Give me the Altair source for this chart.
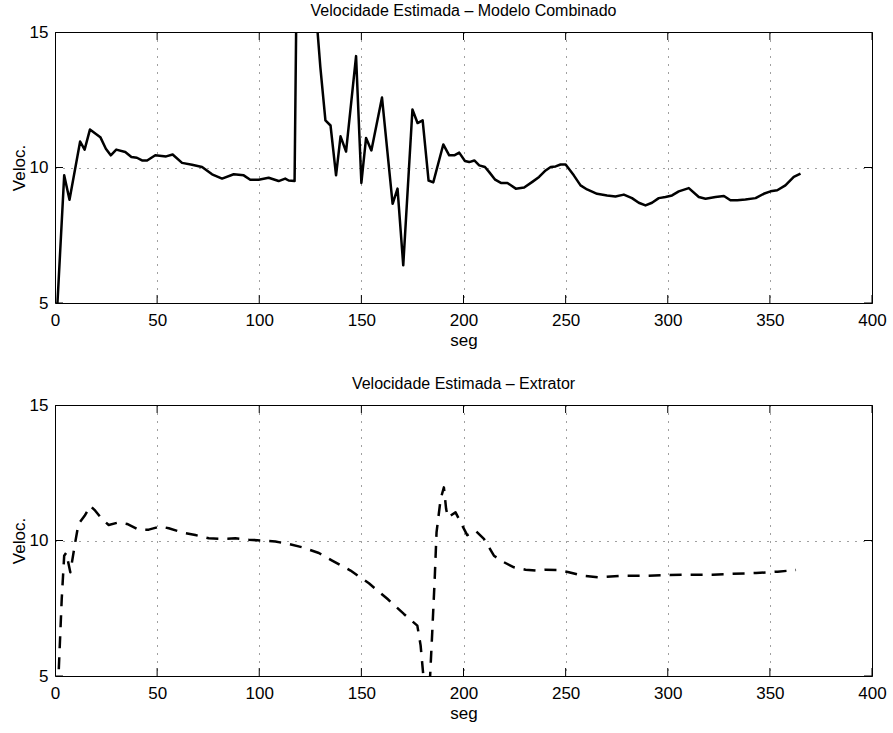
import altair as alt
import pandas as pd

# ---- data ----
t_comb = [0.5, 4.5, 7.1, 12.3, 14.5, 17.1, 22.2, 24.9, 27.3, 30.0,
          34.4, 37.4, 40.1, 42.6, 45.1, 49.1, 54.4, 57.6, 62.2, 67.1,
          72.0, 76.9, 81.8, 87.5, 92.4, 95.6, 99.7, 104.6, 109.5, 112.7,
          114.4, 117.3, 119.0, 121.5, 124.0, 127.0, 129.9, 132.4, 134.9, 137.6,
          139.8, 142.5, 147.4, 150.0, 152.3, 154.9, 160.1, 165.3, 167.7, 170.5,
          175.0, 177.5, 180.0, 182.9, 185.2, 190.1, 193.0, 195.5, 197.9, 200.7,
          202.8, 205.3, 207.7, 210.5, 212.6, 215.5, 218.3, 221.5, 225.6, 229.7,
          233.7, 237.0, 240.2, 242.7, 245.1, 247.5, 250.0, 254.0, 257.3, 260.5,
          265.4, 270.3, 274.4, 278.5, 282.5, 285.8, 289.1, 292.3, 295.6, 298.9,
          302.1, 305.4, 310.3, 315.2, 318.5, 323.4, 327.5, 330.7, 334.0, 338.0,
          343.0, 347.0, 350.3, 353.6, 357.6, 361.7, 365.0]
v_comb = [4.0, 9.71, 8.81, 10.96, 10.66, 11.40, 11.12, 10.69, 10.45, 10.66,
          10.57, 10.39, 10.36, 10.26, 10.26, 10.45, 10.41, 10.48, 10.17, 10.10,
          10.02, 9.75, 9.59, 9.75, 9.71, 9.55, 9.55, 9.62, 9.50, 9.59,
          9.52, 9.50, 22.0, 19.5, 18.0, 16.5, 13.71, 11.74, 11.55, 9.71,
          11.15, 10.59, 14.11, 9.43, 11.09, 10.63, 12.58, 8.66, 9.22, 6.39,
          12.14, 11.64, 11.74, 9.52, 9.45, 10.85, 10.45, 10.45, 10.55, 10.24,
          10.20, 10.26, 10.08, 10.02, 9.83, 9.55, 9.43, 9.43, 9.22, 9.26,
          9.47, 9.65, 9.89, 10.02, 10.04, 10.11, 10.11, 9.71, 9.34, 9.19,
          9.03, 8.97, 8.93, 9.00, 8.87, 8.70, 8.60, 8.70, 8.87, 8.91,
          8.97, 9.12, 9.24, 8.91, 8.85, 8.91, 8.95, 8.79, 8.79, 8.82,
          8.87, 9.03, 9.12, 9.16, 9.34, 9.65, 9.77]

t_ext = [1.0, 3.3, 4.5, 5.5, 7.5, 9.9, 11.5, 14.5, 17.3, 19.7,
         23.0, 26.3, 31.2, 35.3, 41.0, 45.9, 51.6, 55.7, 62.2, 68.7,
         75.3, 81.8, 88.3, 94.9, 101.4, 107.9, 114.5, 121.0, 129.2, 135.7,
         144.7, 153.7, 162.7, 170.8, 177.4, 179.0, 182.5, 184.7, 185.9, 186.8,
         188.8, 190.4, 191.5, 192.4, 196.1, 199.4, 201.8, 205.9, 210.0, 214.9,
         219.0, 224.7, 230.4, 235.3, 240.2, 246.7, 251.6, 258.2, 266.4, 277.9,
         289.3, 299.9, 310.5, 322.0, 331.8, 343.2, 353.8, 362.8]
v_ext = [3.7, 7.85, 9.44, 9.55, 8.83, 9.93, 10.61, 10.91, 11.28, 11.10,
         10.79, 10.57, 10.67, 10.61, 10.40, 10.40, 10.52, 10.45, 10.30, 10.20,
         10.08, 10.06, 10.08, 10.03, 10.00, 9.96, 9.87, 9.75, 9.54, 9.26,
         8.89, 8.42, 7.85, 7.29, 6.86, 6.13, 3.2, 6.62, 8.58, 10.30,
         11.53, 11.96, 11.16, 10.85, 11.04, 10.55, 10.20, 10.36, 10.06, 9.44,
         9.23, 9.01, 8.92, 8.89, 8.92, 8.91, 8.83, 8.70, 8.64, 8.70,
         8.70, 8.73, 8.74, 8.74, 8.77, 8.80, 8.85, 8.91]

x_ticks = [0, 50, 100, 150, 200, 250, 300, 350, 400]
y_ticks = [5, 10, 15]

title_top = "Velocidade Estimada – Modelo Combinado"
title_bottom = "Velocidade Estimada – Extrator"
x_title = "seg"
y_title = "Veloc."

assert len(t_comb) == len(v_comb)
assert len(t_ext) == len(v_ext)

FONT = "Liberation Sans"
W, H = 817, 271


def panel(ts, vs, title, dash):
    df = pd.DataFrame({"t": ts, "v": vs})
    xdf = pd.DataFrame({"t": x_ticks})
    ydf = pd.DataFrame({"v": y_ticks})
    xs = alt.Scale(domain=[0, 400], nice=False, zero=False)
    ys = alt.Scale(domain=[5, 15], nice=False, zero=False)
    xaxis = alt.Axis(values=x_ticks, grid=True, title=x_title, format="d",
                     labelPadding=9, titlePadding=4, labelFlush=False,
                     labelOverlap=False)
    yaxis = alt.Axis(values=y_ticks, grid=True, title=y_title, format="d",
                     labelPadding=7, titlePadding=1, labelFlush=False,
                     labelOverlap=False)
    mk = dict(color="black", strokeWidth=2.5, clip=True, strokeCap="butt", strokeJoin="round")
    if dash:
        mk["strokeDash"] = dash
    line = alt.Chart(df).mark_line(**mk).encode(
        x=alt.X("t:Q", scale=xs, axis=xaxis),
        y=alt.Y("v:Q", scale=ys, axis=yaxis),
        order="t:Q",
    )
    tk = dict(color="black", size=16, thickness=1, clip=True, opacity=1)
    xt_bot = alt.Chart(xdf).mark_tick(**tk).encode(
        x=alt.X("t:Q", scale=xs, axis=xaxis), y=alt.value(H))
    xt_top = alt.Chart(xdf).mark_tick(**tk).encode(
        x=alt.X("t:Q", scale=xs, axis=xaxis), y=alt.value(0))
    yt_l = alt.Chart(ydf).mark_tick(**tk).encode(
        y=alt.Y("v:Q", scale=ys, axis=yaxis), x=alt.value(0))
    yt_r = alt.Chart(ydf).mark_tick(**tk).encode(
        y=alt.Y("v:Q", scale=ys, axis=yaxis), x=alt.value(W))
    return alt.layer(line, xt_bot, xt_top, yt_l, yt_r).properties(
        width=W, height=H,
        title=alt.TitleParams(title, font=FONT, fontSize=16, fontWeight="normal",
                              color="black", anchor="middle", offset=4),
    )


top = panel(t_comb, v_comb, title_top, None)
bottom = panel(t_ext, v_ext, title_bottom, [12, 9])

chart = alt.vconcat(top, bottom, spacing=26).properties(
    padding={"left": 9, "top": 2, "right": 4, "bottom": 4},
    background="white",
).configure_view(
    stroke="black", strokeWidth=1,
).configure_axis(
    labelFont=FONT, labelFontSize=17, labelColor="black",
    titleFont=FONT, titleFontSize=17, titleFontWeight="normal", titleColor="black",
    domain=False, ticks=False,
    gridColor="black", gridDash=[1, 7], gridWidth=1, gridOpacity=0.75,
)

chart.save("out.html", embed_options={"renderer": "svg", "actions": False})
